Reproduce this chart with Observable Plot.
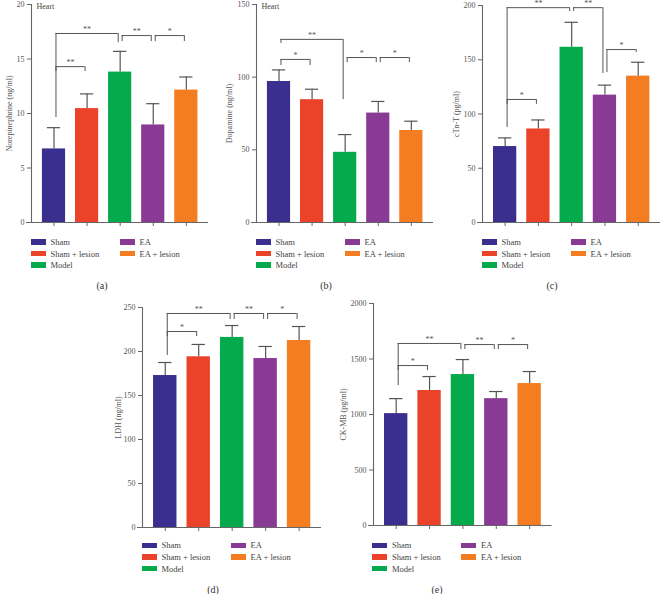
<!DOCTYPE html>
<html><head><meta charset="utf-8">
<script src="https://cdn.jsdelivr.net/npm/d3@7"></script>
<script src="https://cdn.jsdelivr.net/npm/@observablehq/plot@0.6"></script>
<style>
body{margin:0;background:#fff;}
#c{position:relative;width:661px;height:594px;overflow:hidden;font-family:"Liberation Serif","DejaVu Serif",serif;color:#444;}
.p{position:absolute;display:block;}
.lg{position:absolute;display:grid;grid-auto-flow:column;grid-template-columns:89px auto;grid-template-rows:repeat(3,11.7px);font-size:8.5px;color:#444;}
.it{display:flex;align-items:center;white-space:nowrap;}
.sw{display:inline-block;width:15px;height:5.5px;margin-right:5px;}
.cap{position:absolute;font-size:10px;color:#333;transform:translate(-50%,-50%);}
</style></head><body><div id="c"></div>
<script>
// ---- data ----
const groups = ["Sham", "Sham + lesion", "Model", "EA", "EA + lesion"];
const colors = ["#3a2f8f", "#ea4329", "#05aa4d", "#883a95", "#f47d22"];

const meansA = [6.75, 10.45, 13.8, 8.95, 12.15];
const errsA  = [1.95, 1.35, 1.9, 1.95, 1.2];
const ticksA = [0, 5, 10, 15, 20];
const bracketsA = [
  {from: "Sham", to: "Model", y: 17.34, yl: 9.63, yr: 16.5, label: "**"},
  {from: "Sham", to: "Sham + lesion", y: 14.3, yl: 13.85, yr: 13.85, label: "**"},
  {from: "Model", to: "EA", y: 17.15, yl: 16.6, yr: 16.6, label: "**"},
  {from: "EA", to: "EA + lesion", y: 17.15, yl: 16.6, yr: 16.6, label: "*"}
];

const meansB = [97, 84.5, 48.3, 75.3, 63.3];
const errsB  = [8, 7.2, 12.2, 8, 6.4];
const ticksB = [0, 50, 100, 150];
const bracketsB = [
  {from: "Sham", to: "Model", y: 126, yl: 123.2, yr: 84.6, label: "**"},
  {from: "Sham", to: "Sham + lesion", y: 112.2, yl: 108, yr: 108, label: "*"},
  {from: "Model", to: "EA", y: 113.5, yl: 110, yr: 110, label: "*"},
  {from: "EA", to: "EA + lesion", y: 113.5, yl: 110, yr: 110, label: "*"}
];

const meansC = [70, 86.2, 161.5, 117.4, 134.9];
const errsC  = [8, 8.3, 23, 9.2, 12.8];
const ticksC = [0, 50, 100, 150, 200];
const bracketsC = [
  {from: "Sham", to: "Model", y: 198, yl: 87.6, yr: 194.5, label: "**"},
  {from: "Model", to: "EA", y: 198, yl: 194.5, yr: 137.3, label: "**"},
  {from: "Sham", to: "Sham + lesion", y: 113.4, yl: 108.8, yr: 108.8, label: "*"},
  {from: "EA", to: "EA + lesion", y: 159.4, yl: 138.2, yr: 156.7, label: "*"}
];

const meansD = [172.7, 194, 216, 192, 212.5];
const errsD  = [14.8, 14, 13.5, 13.7, 15.9];
const ticksD = [0, 50, 100, 150, 200, 250];
const bracketsD = [
  {from: "Sham", to: "Model", y: 243.2, yl: 195.5, yr: 236.4, label: "**"},
  {from: "Sham", to: "Sham + lesion", y: 222.7, yl: 217, yr: 217, label: "*"},
  {from: "Model", to: "EA", y: 243.2, yl: 236.4, yr: 236.4, label: "**"},
  {from: "EA", to: "EA + lesion", y: 243.2, yl: 236.4, yr: 236.4, label: "*"}
];

const meansE = [1008, 1216, 1360, 1143, 1279];
const errsE  = [135, 126, 135, 64, 108];
const ticksE = [0, 500, 1000, 1500, 2000];
const bracketsE = [
  {from: "Sham", to: "Model", y: 1640, yl: 1261, yr: 1585, label: "**"},
  {from: "Sham", to: "Sham + lesion", y: 1441, yl: 1396, yr: 1396, label: "*"},
  {from: "Model", to: "EA", y: 1630, yl: 1585, yr: 1585, label: "**"},
  {from: "EA", to: "EA + lesion", y: 1630, yl: 1585, yr: 1585, label: "*"}
];

// ---- layout ----
const panels = [
  {tag: "(a)", yLabel: "Norepinephrine (ng/ml)", heart: true, means: meansA, errs: errsA, ticks: ticksA, brackets: bracketsA,
   ax: 31, top: 4, w: 177, h: 218, lo: 25, legTop: 236, capX: 102, capY: 285},
  {tag: "(b)", yLabel: "Dopamine (ng/ml)", heart: true, means: meansB, errs: errsB, ticks: ticksB, brackets: bracketsB,
   ax: 256, top: 4, w: 177, h: 218, lo: 30, legTop: 236, capX: 326, capY: 285},
  {tag: "(c)", yLabel: "cTn-T (pg/ml)", heart: false, means: meansC, errs: errsC, ticks: ticksC, brackets: bracketsC,
   ax: 482, top: 5, w: 178, h: 217, lo: 29, legTop: 236, capX: 552, capY: 285},
  {tag: "(d)", yLabel: "LDH (ng/ml)", heart: false, means: meansD, errs: errsD, ticks: ticksD, brackets: bracketsD,
   ax: 142, top: 307, w: 179, h: 220, lo: 27, legTop: 539.5, capX: 213, capY: 589},
  {tag: "(e)", yLabel: "CK-MB (pg/ml)", heart: false, means: meansE, errs: errsE, ticks: ticksE, brackets: bracketsE,
   ax: 372.5, top: 303, w: 178.5, h: 222, lo: 33, legTop: 539.5, capX: 437, capY: 589}
];

const root = document.getElementById("c");
const ML = 45, MT = 14, MB = 12, MR = 6;
const xd = [-0.68, 4.67];
const ink = "#555";

for (const cfg of panels) {
  const data = groups.map((g, i) => ({g, i, mean: cfg.means[i], top: cfg.means[i] + cfg.errs[i]}));
  const br = cfg.brackets.map(b => ({...b, x1: groups.indexOf(b.from) + 0.06, x2: groups.indexOf(b.to) - 0.06}));
  const yMax = cfg.ticks[cfg.ticks.length - 1];
  const marks = [
    Plot.rectY(data, {x1: d => d.i - 0.35, x2: d => d.i + 0.35, y1: 0, y2: "mean", fill: "g"}),
    Plot.ruleX(data, {x: "i", y1: "mean", y2: "top", stroke: ink, strokeWidth: 1.2}),
    Plot.ruleY(data, {y: "top", x1: d => d.i - 0.2, x2: d => d.i + 0.2, stroke: ink, strokeWidth: 1.2}),
    Plot.ruleX([xd[0]], {stroke: "#666", strokeWidth: 1.1}),
    Plot.ruleY([0], {stroke: "#666", strokeWidth: 1.1, insetLeft: -5}),
    Plot.axisY({ticks: cfg.ticks, tickFormat: d => String(d), tickSize: 4, tickPadding: 3, label: cfg.yLabel, labelAnchor: "center", labelOffset: cfg.lo, labelArrow: "none", stroke: "#666", fill: "#555"}),
    Plot.axisX({ticks: [0, 1, 2, 3, 4], tickFormat: () => "", tickSize: 4, stroke: "#666"}),
    Plot.ruleY(br, {y: "y", x1: "x1", x2: "x2", stroke: ink, strokeWidth: 1}),
    Plot.ruleX(br, {x: "x1", y1: "yl", y2: "y", stroke: ink, strokeWidth: 1}),
    Plot.ruleX(br, {x: "x2", y1: "yr", y2: "y", stroke: ink, strokeWidth: 1}),
    Plot.text(br, {x: d => (d.x1 + d.x2) / 2, y: "y", text: "label", dy: -4, fontSize: 8, fill: ink})
  ];
  if (cfg.heart) marks.push(Plot.text(["Heart"], {frameAnchor: "top-left", dx: 5, dy: -1, lineAnchor: "top", textAnchor: "start", fontSize: 8, fill: "#444"}));
  const svg = Plot.plot({
    width: ML + cfg.w + MR, height: MT + cfg.h + MB,
    marginLeft: ML, marginTop: MT, marginBottom: MB, marginRight: MR,
    style: {background: "transparent", overflow: "visible", fontFamily: "Liberation Serif, serif", fontSize: "8px", color: "#555"},
    x: {domain: xd, axis: null},
    y: {domain: [0, yMax], axis: null},
    color: {domain: groups, range: colors},
    marks
  });
  svg.classList.add("p");
  svg.style.left = (cfg.ax - ML) + "px";
  svg.style.top = (cfg.top - MT) + "px";
  svg.style.maxWidth = "none";
  root.appendChild(svg);

  const lg = document.createElement("div");
  lg.className = "lg";
  lg.style.left = (cfg.ax - 0.5) + "px";
  lg.style.top = cfg.legTop + "px";
  groups.forEach((g, i) => {
    const it = document.createElement("div");
    it.className = "it";
    const sw = document.createElement("span");
    sw.className = "sw";
    sw.style.background = colors[i];
    it.appendChild(sw);
    it.appendChild(document.createTextNode(g));
    lg.appendChild(it);
  });
  root.appendChild(lg);

  const cap = document.createElement("div");
  cap.className = "cap";
  cap.textContent = cfg.tag;
  cap.style.left = cfg.capX + "px";
  cap.style.top = cfg.capY + "px";
  root.appendChild(cap);
}
</script></body></html>
